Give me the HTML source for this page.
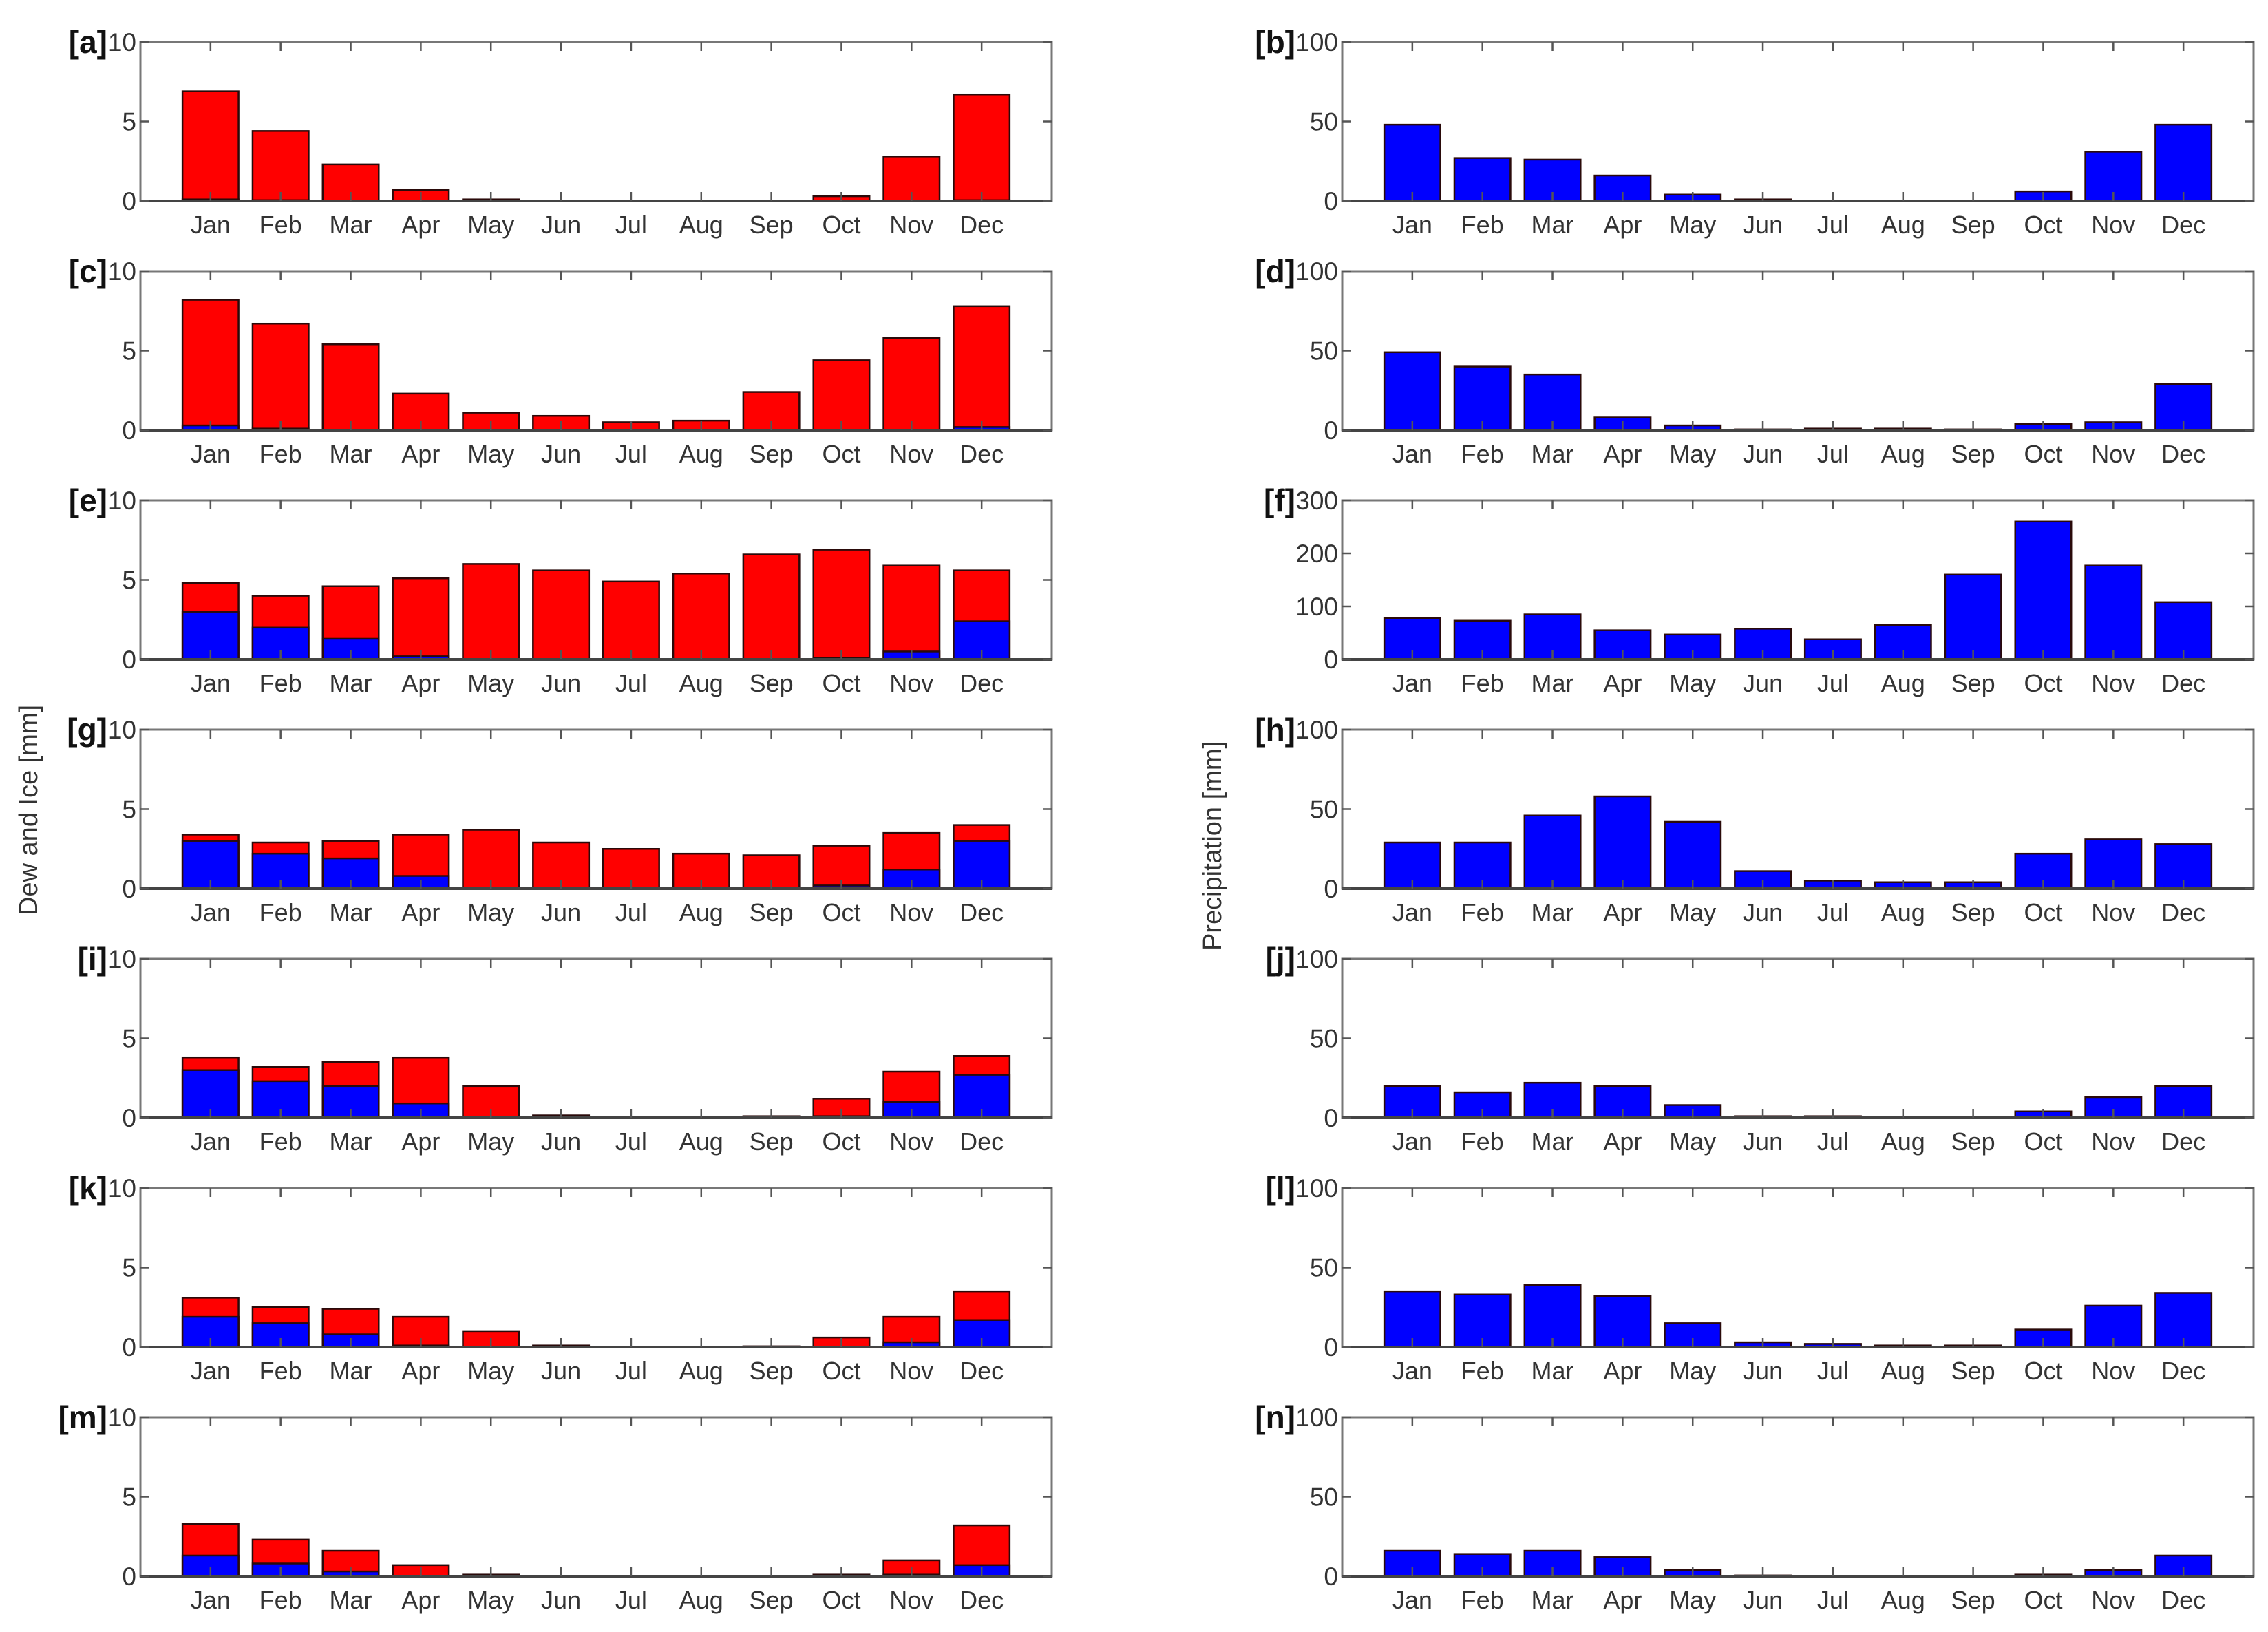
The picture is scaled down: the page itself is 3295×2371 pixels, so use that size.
<!DOCTYPE html>
<html><head><meta charset="utf-8">
<style>
html,body{margin:0;padding:0;background:#fff;}
svg{display:block;font-family:"Liberation Sans",Arial,sans-serif;}
</style></head>
<body>
<svg id="chart" xmlns="http://www.w3.org/2000/svg" width="3295" height="2371" viewBox="0 0 3295 2371">
<rect width="3295" height="2371" fill="#fff"/>
<text x="0" y="0" transform="translate(54,1177) rotate(-90)" text-anchor="middle" font-size="38" fill="#333">Dew and Ice  [mm]</text>
<text x="0" y="0" transform="translate(1774,1229) rotate(-90)" text-anchor="middle" font-size="38" fill="#333">Precipitation [mm]</text>
</svg>
<script>
const months = ["Jan","Feb","Mar","Apr","May","Jun","Jul","Aug","Sep","Oct","Nov","Dec"];
const leftLabels = ["a","c","e","g","i","k","m"];
const rightLabels = ["b","d","f","h","j","l","n"];
const leftTicks = [0,5,10];
const rightTicks = [0,50,100];
const fTicks = [0,100,200,300];
const totalA = [6.9,4.4,2.3,0.7,0.1,0,0,0,0,0.3,2.8,6.7];
const blueA  = [0.1,0.05,0,0,0,0,0,0,0,0,0,0.05];
const totalC = [8.2,6.7,5.4,2.3,1.1,0.9,0.5,0.6,2.4,4.4,5.8,7.8];
const blueC  = [0.3,0.1,0,0,0,0,0,0,0,0,0,0.2];
const totalE = [4.8,4.0,4.6,5.1,6.0,5.6,4.9,5.4,6.6,6.9,5.9,5.6];
const blueE  = [3.0,2.0,1.3,0.2,0,0,0,0,0,0.1,0.5,2.4];
const totalG = [3.4,2.9,3.0,3.4,3.7,2.9,2.5,2.2,2.1,2.7,3.5,4.0];
const blueG  = [3.0,2.2,1.9,0.8,0,0,0,0,0,0.2,1.2,3.0];
const totalI = [3.8,3.2,3.5,3.8,2.0,0.15,0.05,0.05,0.1,1.2,2.9,3.9];
const blueI  = [3.0,2.3,2.0,0.9,0.05,0,0,0,0,0.1,1.0,2.7];
const totalK = [3.1,2.5,2.4,1.9,1.0,0.1,0,0,0.05,0.6,1.9,3.5];
const blueK  = [1.9,1.5,0.8,0.1,0,0,0,0,0,0,0.3,1.7];
const totalM = [3.3,2.3,1.6,0.7,0.1,0,0,0,0,0.1,1.0,3.2];
const blueM  = [1.3,0.8,0.3,0,0,0,0,0,0,0,0.1,0.7];
const precB = [48,27,26,16,4,1,0,0,0,6,31,48];
const precD = [49,40,35,8,3,0.5,1,1,0.5,4,5,29];
const precF = [78,73,85,55,47,58,38,65,160,260,177,108];
const precH = [29,29,46,58,42,11,5,4,4,22,31,28];
const precJ = [20,16,22,20,8,1,1,0.5,0.5,4,13,20];
const precL = [35,33,39,32,15,3,2,1,1,11,26,34];
const precN = [16,14,16,12,4,0.5,0,0,0,1,4,13];

const leftTotals = [totalA,totalC,totalE,totalG,totalI,totalK,totalM];
const leftBlues = [blueA,blueC,blueE,blueG,blueI,blueK,blueM];
const rightData = [precB,precD,precF,precH,precJ,precL,precN];

const svg = document.getElementById('chart');
const NS = 'http://www.w3.org/2000/svg';
function mk(tag, attrs, parent){
  const e = document.createElementNS(NS, tag);
  for (const k in attrs) e.setAttribute(k, attrs[k]);
  (parent||svg).appendChild(e);
  return e;
}
const W = 1324, H = 231;
function panel(x0, y0, label, ticks, series, name){
  const g = mk('g', {});
  
  
  const ymax = ticks[ticks.length-1];
  const xs = m => x0 + (m+1) * W / 13;
  const ys = v => y0 + H - v / ymax * H;
  const bw = 0.8 * W / 13;
  series.forEach(s => {
    s.vals.forEach((v, i) => {
      if (v <= 0) return;
      const r = mk('rect', {x: xs(i)-bw/2, y: ys(v), width: bw, height: ys(0)-ys(v), fill: s.color, stroke: '#2a0a0a', 'stroke-width': 2.5}, g);
      
      
    });
  });
  const box = mk('rect', {x: x0, y: y0, width: W, height: H, fill: 'none', stroke: '#777', 'stroke-width': 3}, g);
  
  
  mk('line', {x1: x0, y1: y0+H, x2: x0+W, y2: y0+H, stroke: '#444', 'stroke-width': 4}, g);
  months.forEach((m, i) => {
    mk('line', {x1: xs(i), y1: y0, x2: xs(i), y2: y0+13, stroke: '#555', 'stroke-width': 2.5}, g);
    mk('line', {x1: xs(i), y1: y0+H, x2: xs(i), y2: y0+H-13, stroke: '#555', 'stroke-width': 2.5}, g);
    const t = mk('text', {x: xs(i), y: y0+H+47, 'text-anchor': 'middle', 'font-size': 36, fill: '#333'}, g);
    t.textContent = m;
    
    
  });
  ticks.forEach(v => {
    mk('line', {x1: x0, y1: ys(v), x2: x0+13, y2: ys(v), stroke: '#555', 'stroke-width': 2.5}, g);
    mk('line', {x1: x0+W, y1: ys(v), x2: x0+W-13, y2: ys(v), stroke: '#555', 'stroke-width': 2.5}, g);
    const t = mk('text', {x: x0-6, y: ys(v)+13, 'text-anchor': 'end', 'font-size': 37, fill: '#333'}, g);
    t.textContent = v;
    
    
  });
  const lw = String(ymax).length * 20 + 8;
  const pl = mk('text', {x: x0 - lw, y: y0+16, 'text-anchor': 'end', 'font-size': 46, 'font-weight': 'bold', fill: '#111'}, g);
  pl.textContent = '[' + label + ']';
  
  
}
for (let r = 0; r < 7; r++){
  const y0 = 61 + r * 333;
  panel(204, y0, leftLabels[r], leftTicks, [
    {vals: leftTotals[r], color: '#ff0000', name: 'dew-bar'},
    {vals: leftBlues[r], color: '#0000ff', name: 'ice-bar'}
  ], 'panel-' + leftLabels[r]);
  panel(1950, y0, rightLabels[r], rightLabels[r] === 'f' ? fTicks : rightTicks, [
    {vals: rightData[r], color: '#0000ff', name: 'precip-bar'}
  ], 'panel-' + rightLabels[r]);
}
</script>
</body></html>
